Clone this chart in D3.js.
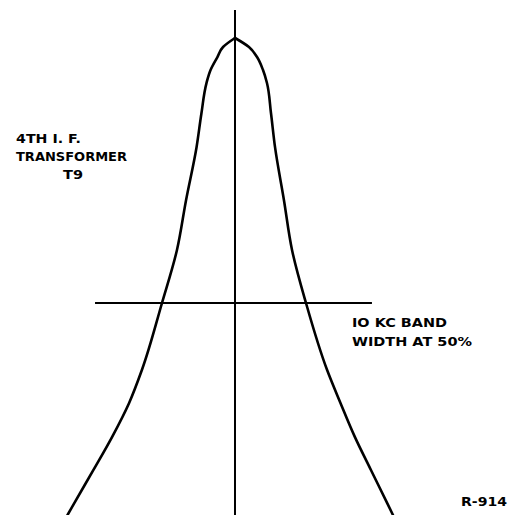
<!DOCTYPE html>
<html>
<head>
<meta charset="utf-8">
<script src="https://cdn.jsdelivr.net/npm/d3@7"></script>
<style>
  body { margin: 0; background: #fff; }
  svg { display: block; }
  .lbl { font-family: "DejaVu Sans", sans-serif; font-weight: bold; fill: #000; }
</style>
</head>
<body>
<div id="chart"></div>
<script>
"use strict";

// response curve of the 4th IF transformer, kc off centre vs % response
var curveKc  = [-11.63, -11.15, -9.83, -8.54, -7.36, -6.46, -5.07, -4.03, -3.40, -2.67, -2.33, -1.98, -1.69, -1.22, -0.83, 0,
                0.97, 1.53, 1.94, 2.22, 2.50, 2.78, 3.40, 3.96, 4.93, 6.39, 7.33, 8.33, 9.44, 10.56, 10.97];
var curvePct = [10, 12.3, 18.5, 24.7, 31.1, 37.4, 50, 60, 69.4, 79.4, 85.8, 91.5, 94.0, 96.4, 98.3, 100,
                98.3, 96.4, 94.0, 91.5, 85.8, 79.4, 69.4, 60, 50, 37.4, 31.1, 24.7, 18.5, 12.3, 10];

// 50% level line and the centre line
var halfLevel = 50;
var halfLineKc = [-9.72, 9.51];
var centreKc = 0;
var centreTopPct = 105.3;

var labelIF = ["4TH  I. F.", "TRANSFORMER", "T9"];
var labelBand = ["IO KC  BAND", "WIDTH  AT  50%"];
var labelRef = "R-914";

function renderChart() {
    var width = 521, height = 515;
    var svg = d3.select("#chart").append("svg")
        .attr("width", width)
        .attr("height", height);

    var x = d3.scaleLinear().domain([-16.319, 19.861]).range([0, width]);
    var y = d3.scaleLinear().domain([100, 50]).range([38, 303]);

    var data = curveKc.map(function (k, i) { return { kc: k, pct: curvePct[i] }; });
    var peak = d3.maxIndex(data, function (d) { return d.pct; });
    // each side drawn on its own so x can follow y smoothly
    var sides = [data.slice(0, peak + 1), data.slice(peak)];

    // centre line
    svg.append("line")
        .attr("x1", x(centreKc)).attr("x2", x(centreKc))
        .attr("y1", y(centreTopPct)).attr("y2", height)
        .attr("stroke", "#000").attr("stroke-width", 2);

    // 50% line
    svg.append("line")
        .attr("x1", x(halfLineKc[0])).attr("x2", x(halfLineKc[1]))
        .attr("y1", y(halfLevel)).attr("y2", y(halfLevel))
        .attr("stroke", "#000").attr("stroke-width", 2);

    var line = d3.line()
        .x(function (d) { return x(d.kc); })
        .y(function (d) { return y(d.pct); })
        .curve(d3.curveMonotoneY);

    svg.selectAll(".side")
        .data(sides)
        .enter().append("path")
        .attr("class", "side")
        .attr("d", line)
        .attr("fill", "none")
        .attr("stroke", "#000")
        .attr("stroke-width", 2.6)
        .attr("stroke-linecap", "round");

    // labels
    var ifPos = [[16, 143, 65], [16, 161, 111], [63, 179, 20]];
    labelIF.forEach(function (t, i) {
        svg.append("text").attr("class", "lbl")
            .attr("x", ifPos[i][0]).attr("y", ifPos[i][1])
            .attr("font-size", "12px")
            .attr("textLength", ifPos[i][2])
            .attr("lengthAdjust", "spacingAndGlyphs")
            .text(t);
    });

    var bandPos = [[352, 327, 95], [352, 346, 120]];
    labelBand.forEach(function (t, i) {
        svg.append("text").attr("class", "lbl")
            .attr("x", bandPos[i][0]).attr("y", bandPos[i][1])
            .attr("font-size", "12px")
            .attr("textLength", bandPos[i][2])
            .attr("lengthAdjust", "spacingAndGlyphs")
            .text(t);
    });

    svg.append("text").attr("class", "lbl")
        .attr("x", 461).attr("y", 506)
        .attr("font-size", "13px")
        .attr("textLength", 46)
        .attr("lengthAdjust", "spacingAndGlyphs")
        .text(labelRef);
}

renderChart();
</script>
</body>
</html>
